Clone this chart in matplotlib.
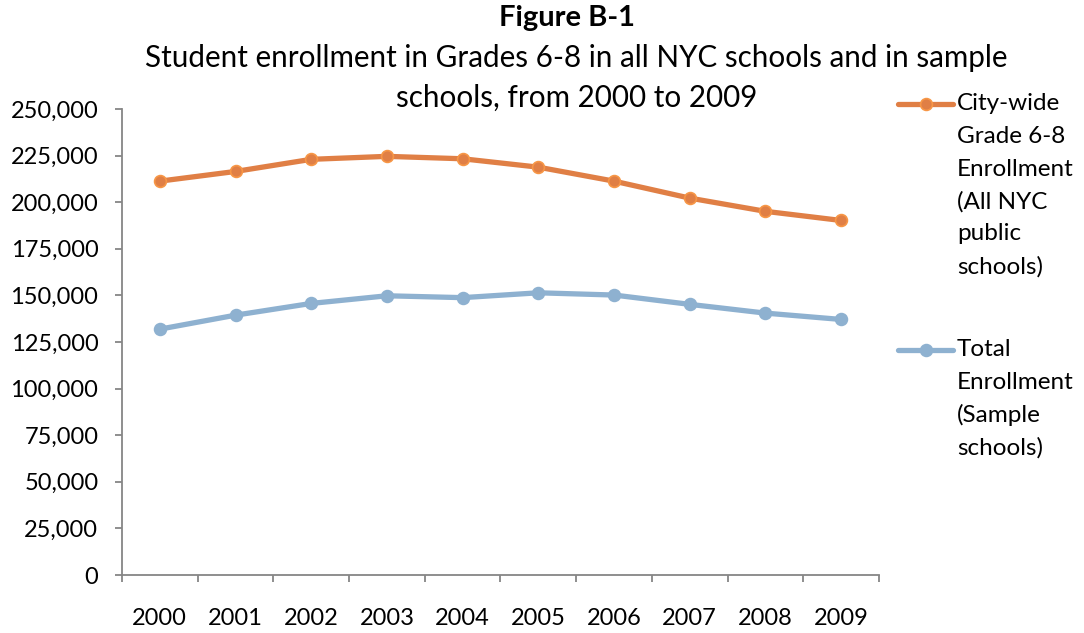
import matplotlib.pyplot as plt
from matplotlib.lines import Line2D
from matplotlib.ticker import FuncFormatter, FixedLocator

years = ['2000', '2001', '2002', '2003', '2004', '2005', '2006', '2007', '2008', '2009']
citywide = [211300, 216500, 223000, 224600, 223300, 218800, 211300, 202200, 195100, 190200]
sample = [131900, 139400, 145700, 149800, 148800, 151400, 150200, 145200, 140500, 137100]

orange = '#E07F45'
orange_edge = '#F79646'
blue = '#8EB1D0'
axis_gray = '#868686'

plt.rcParams['font.family'] = ['Lato', 'DejaVu Sans']

fig = plt.figure(figsize=(10.84, 6.33), dpi=100)
ax = fig.add_axes([0.1125, 0.0916, 0.6984, 0.7362])

x = list(range(len(years)))
ax.plot(x, citywide, color=orange, lw=3.8, marker='o', ms=8.5,
        mfc=orange, mec=orange_edge, mew=1.2, solid_capstyle='round')
ax.plot(x, sample, color=blue, lw=3.8, marker='o', ms=8.5,
        mfc=blue, mec=blue, mew=1.2, solid_capstyle='round')

ax.set_xlim(-0.5, len(years) - 0.5)
ax.set_ylim(0, 250000)
ax.set_yticks(range(0, 250001, 25000))
ax.yaxis.set_major_formatter(FuncFormatter(lambda v, p: f'{int(v):,}'))

# category labels centred, tick marks on the boundaries
ax.set_xticks(x)
ax.set_xticklabels(years)
ax.xaxis.set_minor_locator(FixedLocator([i - 0.5 for i in range(len(years) + 1)]))
ax.tick_params(axis='x', which='major', length=0, pad=24, labelsize=17)
ax.tick_params(axis='x', which='minor', length=5, width=1.3, color=axis_gray, direction='out')
ax.tick_params(axis='y', length=5, width=1.3, color=axis_gray, pad=12, labelsize=17)

for side in ('top', 'right'):
    ax.spines[side].set_visible(False)
for side in ('left', 'bottom'):
    ax.spines[side].set_color(axis_gray)
    ax.spines[side].set_linewidth(1.3)

fig.text(0.523, 0.972, 'Figure B-1', ha='center', va='center',
         fontsize=21, fontweight='bold')
fig.text(0.532, 0.908, 'Student enrollment in Grades 6-8 in all NYC schools and in sample',
         ha='center', va='center', fontsize=21.3)
fig.text(0.532, 0.846, 'schools, from 2000 to 2009', ha='center', va='center', fontsize=21.3)

# hand-drawn legend on the right
def legend_entry(y, color, edge, lines):
    fig.add_artist(Line2D([898 / 1084, 953 / 1084], [y, y], color=color, lw=3.8,
                          solid_capstyle='round'))
    fig.add_artist(Line2D([925.5 / 1084], [y], marker='o', ms=8.5, mfc=color,
                          mec=edge, mew=1.2, color=color))
    for i, t in enumerate(lines):
        fig.text(957 / 1084, y - i * 32.5 / 633, t, ha='left', va='center', fontsize=17.5)

legend_entry(1 - 104 / 633, orange, orange_edge,
             ['City-wide', 'Grade 6-8', 'Enrollment', '(All NYC', 'public', 'schools)'])
legend_entry(1 - 350 / 633, blue, blue,
             ['Total', 'Enrollment', '(Sample', 'schools)'])

fig.savefig('out.png', dpi=100)
